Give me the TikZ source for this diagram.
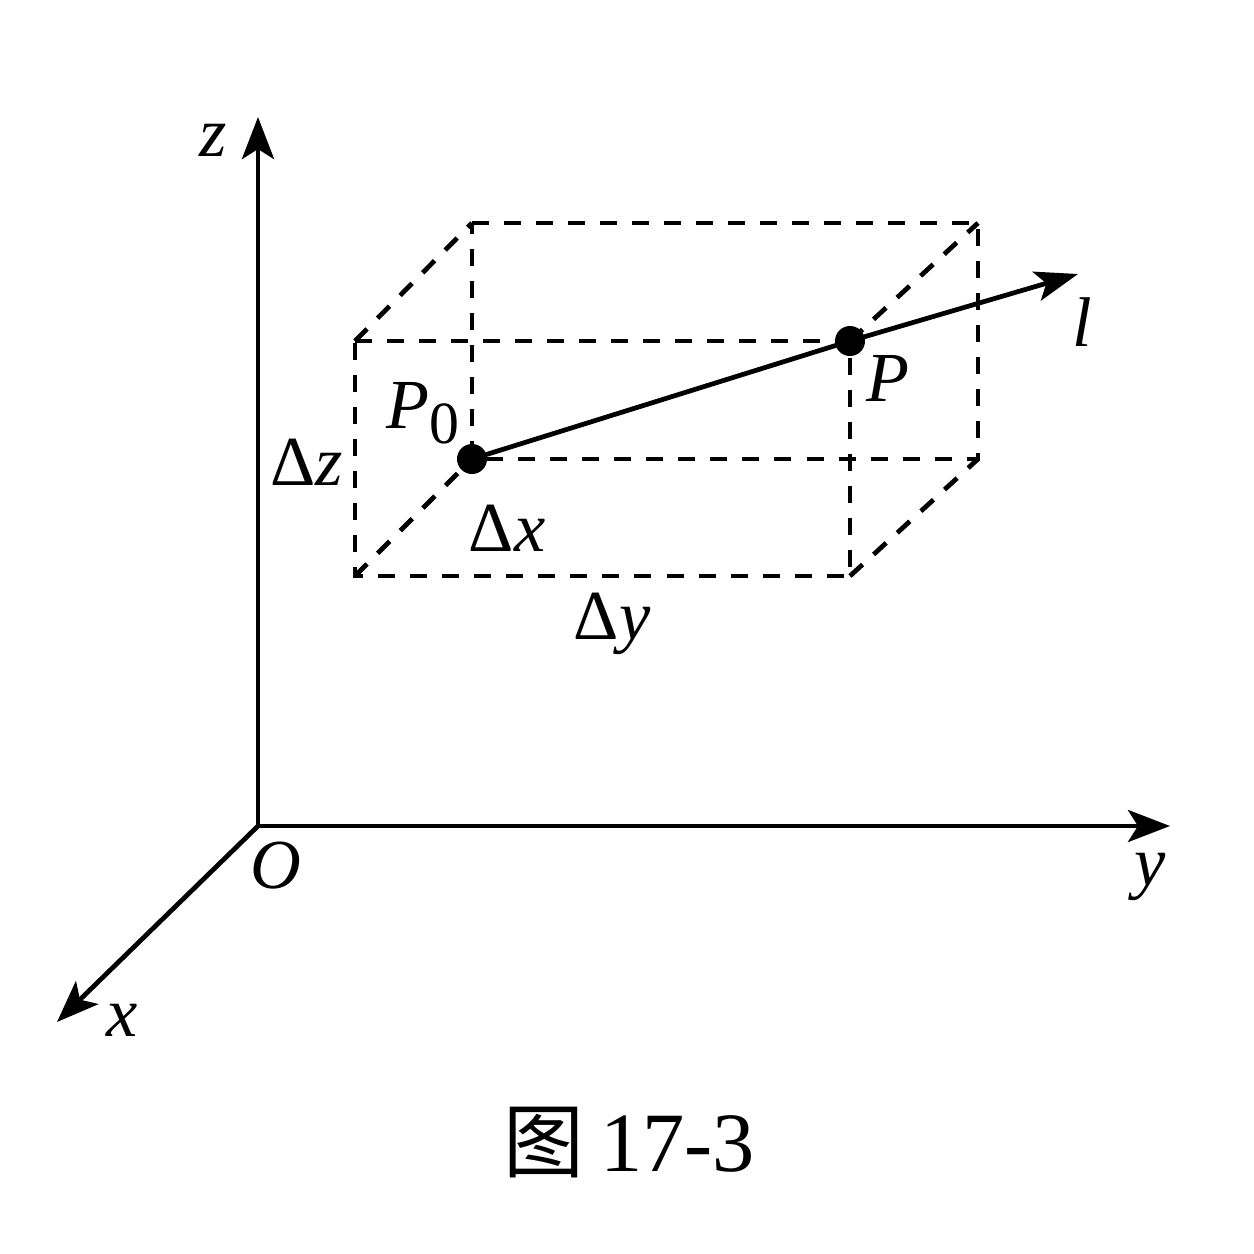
\documentclass[tikz,border=0pt]{standalone}
\usepackage{fontspec}
\setmainfont{Liberation Serif}
\newfontfamily\cjk{Noto Sans CJK SC}
\usetikzlibrary{arrows.meta}
\begin{document}
\begin{tikzpicture}[x=0.01cm,y=-0.01cm,
  axis/.style={line width=1.35pt,-{Stealth[length=0.42cm,width=0.32cm,inset=0.1cm]}},
  dsh/.style={line width=1.35pt,dash pattern=on 0.17cm off 0.15cm},
  lbl/.style={font=\fontsize{20}{22}\selectfont\itshape,inner sep=0pt},
  dot/.style={circle,fill=black,inner sep=0pt,minimum size=0.3cm}]
\useasboundingbox (0,0) rectangle (1254,1254);
% axes
\coordinate (O) at (258,826);
\coordinate (zt) at (258,117);
\coordinate (yt) at (1170,826);
\coordinate (xt) at (57,1022);
\draw[axis] (O) -- (zt);
\draw[axis] (O) -- (yt);
\draw[axis] (O) -- (xt);
% box corners
\coordinate (A) at (355,341);  % front top-left
\coordinate (B) at (850,341);  % front top-right (P)
\coordinate (C) at (850,576);  % front bottom-right
\coordinate (D) at (355,576);  % front bottom-left
\coordinate (E) at (472,223);  % back top-left
\coordinate (F) at (978,223);  % back top-right
\coordinate (G) at (978,459);  % back bottom-right
\coordinate (H) at (472,459);  % back bottom-left (P0)
\draw[dsh] (A) -- (B) -- (C) -- (D) -- cycle;
\draw[dsh] (E) -- (F) -- (G) -- (H) -- cycle;
\draw[dsh] (A) -- (E);
\draw[dsh] (B) -- (F);
\draw[dsh] (C) -- (G);
\draw[dsh] (D) -- (H);
% line l
\node[dot] (P0) at (H) {};
\node[dot] (P) at (B) {};
\coordinate (lt) at (1078,274);
\draw[line width=1.35pt] (P0.center) -- (P.center);
\draw[line width=1.35pt,-{Stealth[length=0.43cm,width=0.3cm,inset=0.1cm]}] (P.center) -- (lt);
% labels
\node[lbl] (zl) at (213,140) {z};
\node[lbl] (yl) at (1150,877) {y};
\node[lbl] (xl) at (122,1020) {x};
\node[lbl] (Ol) at (276,866) {O};
\node[lbl] (ll) at (1082,322) {l};
\node[lbl] (Pl) at (888,378) {P};
\node[lbl] (P0l) at (423,413) {P\raisebox{-0.45ex}{\upshape\fontsize{17}{18}\selectfont 0}};
\node[lbl] (dz) at (307,462) {{\upshape Δ}z};
\node[lbl] (dx) at (507,528) {{\upshape Δ}x};
\node[lbl] (dy) at (612,624) {{\upshape Δ}y};
\node[inner sep=0pt] (cap) at (629,1143) {{\cjk\fontsize{23}{26}\selectfont 图}\hspace{0.45em}{\fontsize{24}{26}\selectfont 17-3}};
\end{tikzpicture}
\end{document}
